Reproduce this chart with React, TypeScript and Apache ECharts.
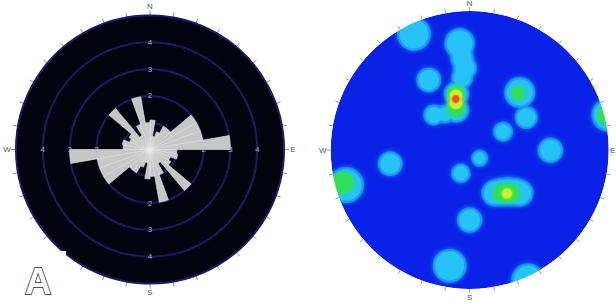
import React, { useEffect, useRef } from 'react';
import * as echarts from 'echarts';

// ---------- Rose diagram (left) ----------
const roseSectors = [
  '0', '10', '20', '30', '40', '50', '60', '70', '80', '90', '100', '110',
  '120', '130', '140', '150', '160', '170', '180', '190', '200', '210', '220', '230',
  '240', '250', '260', '270', '280', '290', '300', '310', '320', '330', '340', '350',
];
const roseCounts = [
  1.1, 0.5, 0.7, 1.0, 1.0, 2.0, 2.0, 2.0, 3.0, 1.0, 1.05, 0.8, 0.9, 2.0, 0.6, 1.0, 2.0, 1.0,
  1.1, 0.5, 0.7, 1.0, 1.0, 2.0, 2.0, 2.0, 3.0, 1.0, 1.05, 0.8, 0.9, 2.0, 0.6, 1.0, 2.0, 1.0,
];
const roseRingLabels = ['2', '3', '4'];
const compassLabels = ['N', 'E', 'S', 'W'];

// ---------- Density contour stereonet (right), unit-circle coordinates [x, y, radius] ----------
const cyanBlobs = [
  [-0.401, 0.835, 0.104],
  [-0.072, 0.767, 0.092],
  [-0.055, 0.662, 0.067],
  [-0.034, 0.59, 0.068],
  [-0.055, 0.518, 0.06],
  [-0.095, 0.403, 0.074],
  [-0.095, 0.288, 0.074],
  [-0.294, 0.504, 0.072],
  [-0.258, 0.252, 0.058],
  [-0.178, 0.259, 0.05],
  [0.36, 0.414, 0.094],
  [0.407, 0.234, 0.065],
  [0.24, 0.132, 0.054],
  [0.995, 0.252, 0.101],
  [0.581, -0.002, 0.074],
  [0.072, -0.06, 0.043],
  [-0.064, -0.168, 0.052],
  [-0.572, -0.099, 0.072],
  [-0.89, -0.252, 0.112],
  [0.182, -0.309, 0.079],
  [0.23, -0.302, 0.084],
  [0.276, -0.299, 0.086],
  [0.322, -0.302, 0.084],
  [0.362, -0.309, 0.079],
  [0.0, -0.504, 0.074],
  [-0.144, -0.833, 0.104],
  [0.419, -0.935, 0.102],
];
const greenBlobs = [
  [-0.099, 0.403, 0.063],
  [-0.099, 0.352, 0.064],
  [-0.099, 0.302, 0.063],
  [0.347, 0.408, 0.05],
  [0.995, 0.252, 0.0755],
  [-0.912, -0.237, 0.078],
  [0.232, -0.309, 0.065],
  [0.265, -0.309, 0.067],
  [0.297, -0.309, 0.065],
];
const yellowBlobs = [
  [-0.099, 0.39, 0.044],
  [-0.099, 0.34, 0.044],
  [0.268, -0.313, 0.036],
];
const redBlobs = [[-0.1, 0.367, 0.026]];

// ---------- layout constants ----------
const L_CX = 150, L_CY = 149.5, L_R = 134, ROSE_MAX = 5;
const R_CX = 469.7, R_CY = 150, R_R = 139;

export default function App() {
  const ref = useRef<HTMLDivElement>(null);
  useEffect(() => {
    const chart = echarts.init(ref.current!, null, { renderer: 'svg' });

    const graphics: any[] = [];
    // white mask outside the stereonet primitive circle
    graphics.push({
      type: 'ring', silent: true, z: 50,
      shape: { cx: R_CX, cy: R_CY, r: R_R + 30, r0: R_R },
      style: { fill: '#ffffff' },
    });
    // notch cut in the lower-left of the rose disc
    graphics.push({
      type: 'rect', silent: true, z: 50,
      shape: { x: 0, y: 251, width: 66, height: 53 },
      style: { fill: '#ffffff' },
    });
    const dirs = [[0, -1], [1, 0], [0, 1], [-1, 0]];
    dirs.forEach(([dx, dy]) => {
      roseRingLabels.forEach((lab) => {
        const r = (Number(lab) / ROSE_MAX) * L_R;
        graphics.push({
          type: 'text', silent: true, z: 52,
          x: L_CX + dx * r, y: L_CY + dy * r,
          style: { text: lab, fill: '#b4b4b4', fontSize: 8, fontFamily: 'Liberation Sans', align: 'center', verticalAlign: 'middle' },
        });
      });
    });
    compassLabels.forEach((lab, i) => {
      const [dx, dy] = dirs[i];
      graphics.push({
        type: 'text', silent: true, z: 52,
        x: L_CX + dx * (L_R + 9), y: L_CY + dy * (L_R + 9),
        style: { text: lab, fill: '#555', fontSize: 8, fontFamily: 'Liberation Sans', align: 'center', verticalAlign: 'middle' },
      });
      const isEast = lab === 'E';
      graphics.push({
        type: 'text', silent: true, z: 52,
        x: isEast ? 615.5 : R_CX + dx * (R_R + 8), y: R_CY + dy * (R_R + 8),
        style: {
          text: lab, fill: '#555', fontSize: 8, fontFamily: 'Liberation Sans',
          align: isEast ? 'right' : 'center', verticalAlign: 'middle',
        },
      });
    });
    graphics.push({
      type: 'text', silent: true, z: 53,
      x: 38, y: 281,
      style: {
        text: 'A', fill: '#ffffff', stroke: '#2a2a2a', lineWidth: 1.5,
        font: 'bold 37px "Liberation Sans", Arial, sans-serif', align: 'center', verticalAlign: 'middle',
      },
    });

    const blobSize = (extra: number) => (v: number[]) => v[2] * 2 * R_R + extra;
    const blobSeries = (data: number[][], color: string, extra = 0, blur = 3) => ({
      type: 'scatter', xAxisIndex: 0, yAxisIndex: 0, data, symbol: 'circle',
      symbolSize: blobSize(extra), silent: true, clip: false,
      itemStyle: { color, opacity: 1, shadowBlur: blur, shadowColor: color },
    });

    const hiddenAngle = (polarIndex: number) => ({
      polarIndex, type: 'value', min: 0, max: 360, startAngle: 90,
      axisLine: { show: false }, axisTick: { show: false }, axisLabel: { show: false },
      splitLine: { show: false },
    });

    chart.setOption({
      animation: false,
      backgroundColor: '#ffffff',
      polar: [
        { center: [L_CX, L_CY], radius: L_R },
        { center: [R_CX, R_CY], radius: R_R },
        { center: [L_CX, L_CY], radius: L_R },
      ],
      angleAxis: [
        {
          polarIndex: 0, type: 'category', data: roseSectors, startAngle: 90, clockwise: true,
          boundaryGap: true,
          axisLine: { show: true, lineStyle: { color: '#101038', width: 1 } },
          axisTick: { show: true, inside: false, length: 5, interval: 0, lineStyle: { color: '#7d84b8', width: 1 } },
          axisLabel: { show: false }, splitLine: { show: false },
        },
        {
          polarIndex: 1, type: 'value', min: 0, max: 360, interval: 10, startAngle: 90, clockwise: true,
          z: 60,
          axisLine: { show: false },
          axisTick: { show: true, inside: false, length: 4, lineStyle: { color: '#9a9a9a', width: 1 } },
          axisLabel: { show: false }, splitLine: { show: false },
        },
        hiddenAngle(2),
      ],
      radiusAxis: [
        {
          polarIndex: 0, type: 'value', min: 0, max: ROSE_MAX, interval: 1, z: 0,
          axisLine: { show: false }, axisTick: { show: false }, axisLabel: { show: false },
          splitLine: { show: false },
          splitArea: { show: true, areaStyle: { color: ['#03030d'] } },
        },
        {
          polarIndex: 1, type: 'value', min: 0, max: 1, interval: 1,
          axisLine: { show: false }, axisTick: { show: false }, axisLabel: { show: false },
          splitLine: { show: false },
          splitArea: { show: true, areaStyle: { color: ['#0a22e8'] } },
        },
        {
          polarIndex: 2, type: 'value', min: 0, max: ROSE_MAX, interval: 1, z: 1,
          axisLine: { show: false }, axisTick: { show: false }, axisLabel: { show: false },
          splitLine: { show: true, lineStyle: { color: '#1c1c66', width: 2 } },
          splitArea: { show: false },
        },
      ],
      grid: { left: R_CX - R_R, top: R_CY - R_R, width: 2 * R_R, height: 2 * R_R, show: false },
      xAxis: { type: 'value', min: -1, max: 1, show: false },
      yAxis: { type: 'value', min: -1, max: 1, show: false },
      graphic: { elements: graphics },
      series: [
        {
          type: 'bar', coordinateSystem: 'polar', polarIndex: 0, data: roseCounts,
          barCategoryGap: '0%', silent: true, z: 3,
          itemStyle: { color: '#c6c6c6', borderColor: '#efefef', borderWidth: 0.6 },
        },
        blobSeries(cyanBlobs, '#1a8cf2', 5, 4),
        blobSeries(cyanBlobs, '#27c3f6', 0, 3),
        blobSeries(greenBlobs, '#2fe05a', 0, 3),
        blobSeries(yellowBlobs, '#d2f02a', 0, 3),
        blobSeries(redBlobs, '#f0561c', 0, 3),
      ],
    });
    return () => chart.dispose();
  }, []);
  return (
    <div
      ref={ref}
      style={{ position: 'absolute', left: 0, top: 0, width: 616, height: 304, background: '#fff' }}
    />
  );
}
